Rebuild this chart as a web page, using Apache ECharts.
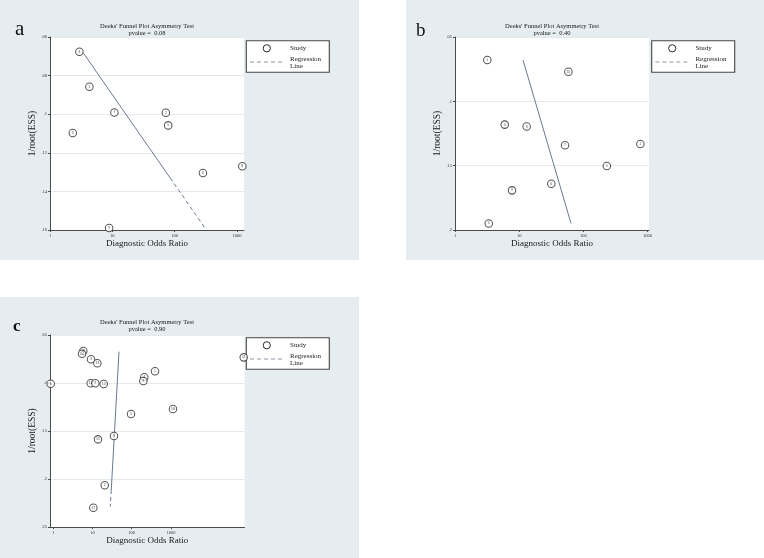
<!DOCTYPE html>
<html><head><meta charset="utf-8">
<script src="https://cdn.jsdelivr.net/npm/echarts@6/dist/echarts.min.js"></script>
<style>html,body{margin:0;padding:0;background:#fff}#c{width:764px;height:558px}</style>
</head><body><div id="c"></div>
<script>
// ---- Panel a ----
const aOR  = [2.96, 4.29, 10.8, 2.32, 72.4, 78.9, 285, 1222, 8.89];
const aESS = [0.0676, 0.0858, 0.0991, 0.1097, 0.0992, 0.1058, 0.1305, 0.127, 0.159];
const aIds = [4, 1, 7, 3, 2, 5, 6, 8, 9];
const aRegOR  = [3.43, 84.7, 314];
const aRegESS = [0.0683, 0.133, 0.1594];
const aP = '0.08';
// ---- Panel b ----
const bOR  = [3.19, 58.6, 5.96, 13.1, 52, 778, 233, 31.8, 7.75, 3.36];
const bESS = [0.0679, 0.077, 0.1181, 0.1196, 0.1341, 0.1331, 0.1502, 0.164, 0.1692, 0.1949];
const bIds = [1, 10, 4, 8, 7, 2, 5, 6, 9, 3];
const bRegOR  = [11.5, 64.5];
const bRegESS = [0.0679, 0.1949];
const bP = '0.40';
// ---- Panel c ----
const cOR  = [5.83, 5.4, 9.16, 13.3, 72000, 393, 209, 198, 0.86, 9.0, 11.8, 19.3, 96, 1130, 13.8, 35.3, 20.5, 10.5];
const cESS = [0.0667, 0.0695, 0.0753, 0.0795, 0.0733, 0.0878, 0.0941, 0.0979, 0.1007, 0.1003, 0.1003, 0.101, 0.1323, 0.1271, 0.1587, 0.1552, 0.2066, 0.2299];
const cIds = [16, 14, 3, 13, 11, 1, 4, 9, 6, 12, 7, 10, 5, 18, 15, 8, 2, 17];
const cRegOR  = [47.4, 30.1, 28.4];
const cRegESS = [0.0674, 0.2115, 0.2288];
const cP = '0.90';
// axis ticks
const xTickVals = [1, 10, 100, 1000];
const titleLine1 = "Deeks' Funnel Plot Asymmetry Test";
const xName = 'Diagnostic Odds Ratio';
const yName = '1/root(ESS)';

const SERIF = '"Liberation Serif", "Times New Roman", serif';
const BG = '#e6edf0';
const REG = '#6b7b92';

function zip(xs, ys) { return xs.map((x, i) => [x, ys[i]]); }
function fmtY(v) { return (Math.round(v * 1000) / 1000).toString().replace(/^0\./, '.'); }
function fmtX(v) {
  const l = Math.log10(v);
  if (Math.abs(l - Math.round(l)) > 1e-6 || v > 1000 || v < 1) return '';
  return String(Math.round(v));
}

function xAxis(gi, min, max) {
  return {
    type: 'log', logBase: 10, gridIndex: gi, min: min, max: max,
    name: xName, nameLocation: 'middle', nameGap: 9,
    nameTextStyle: { fontFamily: SERIF, fontSize: 9, color: '#1a1a1a' },
    axisLine: { onZero: false, lineStyle: { color: '#4a4a4a', width: 1 } },
    axisTick: { length: 2, lineStyle: { color: '#4a4a4a' }, customValues: xTickVals },
    axisLabel: { fontFamily: SERIF, fontSize: 4.5, color: '#333', margin: 3, formatter: fmtX, customValues: xTickVals },
    splitLine: { show: false }, minorTick: { show: false }
  };
}
function yAxis(gi, min, max, interval) {
  return {
    type: 'value', gridIndex: gi, inverse: true, min: min, max: max, interval: interval,
    name: yName, nameLocation: 'middle', nameGap: 12,
    nameTextStyle: { fontFamily: SERIF, fontSize: 9.5, color: '#1a1a1a' },
    axisLine: { show: true, onZero: false, lineStyle: { color: '#4a4a4a', width: 1 } },
    axisTick: { show: true, length: 2, lineStyle: { color: '#4a4a4a' } },
    axisLabel: { fontFamily: SERIF, fontSize: 4.5, color: '#333', margin: 3, formatter: fmtY },
    splitLine: { show: true, lineStyle: { color: '#e4e9ec', width: 1 } }
  };
}
function studies(gi, xs, ys, ids) {
  return {
    type: 'scatter', xAxisIndex: gi, yAxisIndex: gi, data: zip(xs, ys),
    symbol: 'circle', symbolSize: 7.5,
    itemStyle: { color: '#fff', borderColor: '#2a2a2a', borderWidth: 1.05 },
    label: { show: true, position: 'inside', fontSize: 3.5, color: '#222',
      formatter: p => String(ids[p.dataIndex]) },
    z: 3
  };
}
function regLine(gi, xs, ys, dashed) {
  return {
    type: 'line', xAxisIndex: gi, yAxisIndex: gi, data: zip(xs, ys),
    showSymbol: false, symbol: 'none', silent: true,
    lineStyle: { color: REG, width: 1, type: dashed ? [4, 3] : 'solid' }, z: 2
  };
}
function legendBox(x, y) {
  return {
    type: 'group', x: x, y: y, children: [
      { type: 'rect', shape: { x: 0, y: 0, width: 83, height: 31.5 }, style: { fill: '#fff', stroke: '#444', lineWidth: 1.1 } },
      { type: 'circle', shape: { cx: 20.5, cy: 7.6, r: 3.6 }, style: { fill: '#fff', stroke: '#2a2a2a', lineWidth: 1 } },
      { type: 'text', x: 43.7, y: 7.6, style: { text: 'Study', font: '7px ' + SERIF, fill: '#1a1a1a', verticalAlign: 'middle' } },
      { type: 'line', shape: { x1: 3.7, y1: 21.3, x2: 38.7, y2: 21.3 }, style: { stroke: '#8d98a8', lineWidth: 1, lineDash: [4, 3] } },
      { type: 'text', x: 43.7, y: 18.3, style: { text: 'Regression', font: '7px ' + SERIF, fill: '#1a1a1a', verticalAlign: 'middle' } },
      { type: 'text', x: 43.7, y: 25, style: { text: 'Line', font: '7px ' + SERIF, fill: '#1a1a1a', verticalAlign: 'middle' } }
    ]
  };
}
function titleTexts(cx, y1, p) {
  return [
    { type: 'text', x: cx, y: y1, style: { text: titleLine1, font: '6.5px ' + SERIF, fill: '#1a1a1a', align: 'center', verticalAlign: 'middle' } },
    { type: 'text', x: cx, y: y1 + 6.8, style: { text: 'pvalue =  ' + p, font: '6.5px ' + SERIF, fill: '#1a1a1a', align: 'center', verticalAlign: 'middle' } }
  ];
}
function letter(x, y, t, size, bold) {
  return { type: 'text', x: x, y: y, style: { text: t, font: (bold ? 'bold ' : '') + size + 'px ' + SERIF, fill: '#111', verticalAlign: 'alphabetic' } };
}

const chart = echarts.init(document.getElementById('c'), null, { renderer: 'canvas' });
chart.setOption({
  backgroundColor: '#fff',
  animation: false,
  grid: [
    { left: 50, top: 37, width: 194, height: 193, show: true, backgroundColor: '#fff', borderWidth: 0 },
    { left: 455, top: 37, width: 194, height: 193, show: true, backgroundColor: '#fff', borderWidth: 0 },
    { left: 50, top: 335, width: 194.5, height: 192, show: true, backgroundColor: '#fff', borderWidth: 0 }
  ],
  xAxis: [xAxis(0, 1, 1300), xAxis(1, 1, 1060), xAxis(2, 0.824, 75400)],
  yAxis: [yAxis(0, 0.06, 0.16, 0.02), yAxis(1, 0.05, 0.2, 0.05), yAxis(2, 0.05, 0.25, 0.05)],
  series: [
    regLine(0, aRegOR.slice(0, 2), aRegESS.slice(0, 2), false),
    regLine(0, aRegOR.slice(1), aRegESS.slice(1), true),
    studies(0, aOR, aESS, aIds),
    regLine(1, bRegOR, bRegESS, false),
    studies(1, bOR, bESS, bIds),
    regLine(2, cRegOR.slice(0, 2), cRegESS.slice(0, 2), false),
    regLine(2, cRegOR.slice(1), cRegESS.slice(1), true),
    studies(2, cOR, cESS, cIds)
  ],
  graphic: [
    { type: 'rect', z: -100, shape: { x: 0, y: 0, width: 359, height: 260 }, style: { fill: BG } },
    { type: 'rect', z: -100, shape: { x: 406, y: 0, width: 358, height: 260 }, style: { fill: BG } },
    { type: 'rect', z: -100, shape: { x: 0, y: 297, width: 359, height: 261 }, style: { fill: BG } },
    letter(15, 18.5, 'a', 21, false),
    letter(416, 21.5, 'b', 19, false),
    letter(13, 318.5, 'c', 17, true),
    ...titleTexts(147, 26, aP),
    ...titleTexts(552, 26, bP),
    ...titleTexts(147, 322.5, cP),
    legendBox(246.3, 40.7),
    legendBox(651.7, 40.7),
    legendBox(246.3, 337.7)
  ]
});
</script>
</body></html>
